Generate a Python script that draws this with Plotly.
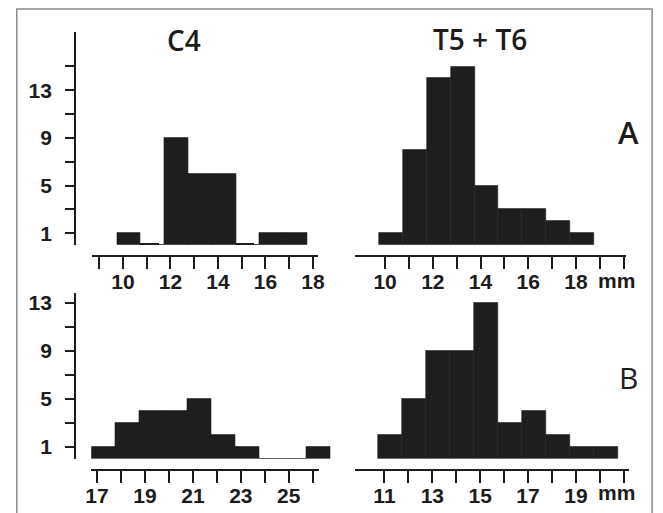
import plotly.graph_objects as go

# ---------------- data ----------------
# Row A (top): bin left edges (mm) and counts
c4_a_bins = [9.75, 10.75, 11.75, 12.75, 13.75, 14.75, 15.75, 16.75]
c4_a_counts = [1, 0, 9, 6, 6, 0, 1, 1]

t56_a_bins = [9.75, 10.75, 11.75, 12.75, 13.75, 14.75, 15.75, 16.75, 17.75]
t56_a_counts = [1, 8, 14, 15, 5, 3, 3, 2, 1]

# Row B (bottom)
c4_b_bins = [16.75, 17.75, 18.75, 19.75, 20.75, 21.75, 22.75, 23.75, 24.75, 25.75]
c4_b_counts = [1, 3, 4, 4, 5, 2, 1, 0, 0, 1]

t56_b_bins = [10.75, 11.75, 12.75, 13.75, 14.75, 15.75, 16.75, 17.75, 18.75, 19.75]
t56_b_counts = [2, 5, 9, 9, 13, 3, 4, 2, 1, 1]

# tick values / labels
c4_a_ticks = [9, 10, 11, 12, 13, 14, 15, 16, 17, 18]
c4_a_labels = ["", "10", "", "12", "", "14", "", "16", "", "18"]
t56_a_ticks = [10, 11, 12, 13, 14, 15, 16, 17, 18, 19, 20]
t56_a_labels = ["10", "", "12", "", "14", "", "16", "", "18", "", ""]
c4_b_ticks = [17, 18, 19, 20, 21, 22, 23, 24, 25, 26]
c4_b_labels = ["17", "", "19", "", "21", "", "23", "", "25", ""]
t56_b_ticks = [11, 12, 13, 14, 15, 16, 17, 18, 19, 20, 21]
t56_b_labels = ["11", "", "13", "", "15", "", "17", "", "19", "", ""]

ya_ticks = [1, 3, 5, 7, 9, 11, 13, 15]
ya_labels = ["1", "", "5", "", "9", "", "13", ""]
yb_ticks = [1, 3, 5, 7, 9, 11, 13]
yb_labels = ["1", "", "5", "", "9", "", "13"]

titles = ["C4", "T5 + T6"]
row_letters = ["A", "B"]
unit_label = "mm"

# ---------------- layout helpers ----------------
W, H = 663, 513
INK = "#1c1c1c"
BAR = "#1e1e1e"


def fx(p):
    return p / W


def fy(p):
    return 1 - p / H


# xdom: pixel span of the drawn axis line; bar_ext: extra px to the right
# where bars may extend beyond the axis line
panels = [
    dict(bins=c4_a_bins, counts=c4_a_counts, ticks=c4_a_ticks, labels=c4_a_labels,
         xdom=(88, 318), xrange=(8.71, 18.2), xpos=255, bar_ext=0,
         ydom=(244, 30), yrange=(0, 17.9), yticks=ya_ticks, ylabels=ya_labels, showy=True),
    dict(bins=t56_a_bins, counts=t56_a_counts, ticks=t56_a_ticks, labels=t56_a_labels,
         xdom=(356, 632), xrange=(8.74, 20.08), xpos=255, bar_ext=0,
         ydom=(244, 30), yrange=(0, 17.9), yticks=ya_ticks, ylabels=ya_labels, showy=False),
    dict(bins=c4_b_bins, counts=c4_b_counts, ticks=c4_b_ticks, labels=c4_b_labels,
         xdom=(87, 319), xrange=(16.76, 26.25), xpos=470, bar_ext=16,
         ydom=(458.6, 292), yrange=(0, 13.83), yticks=yb_ticks, ylabels=yb_labels, showy=True),
    dict(bins=t56_b_bins, counts=t56_b_counts, ticks=t56_b_ticks, labels=t56_b_labels,
         xdom=(356, 635), xrange=(9.77, 21.2), xpos=470, bar_ext=0,
         ydom=(458.6, 292), yrange=(0, 13.83), yticks=yb_ticks, ylabels=yb_labels, showy=False),
]

tick_font = dict(family="Liberation Sans", size=21, color=INK, weight="bold")
title_font = dict(family="Open Sans", size=28, color=INK, weight=600)

fig = go.Figure()
layout = dict(
    width=W, height=H, margin=dict(l=0, r=0, t=0, b=0),
    paper_bgcolor="white", plot_bgcolor="white",
    showlegend=False, bargap=0,
)

extra_axis = len(panels)
for i, p in enumerate(panels, start=1):
    xa = "x" if i == 1 else f"x{i}"
    ya = "y" if i == 1 else f"y{i}"
    xkey = "xaxis" if i == 1 else f"xaxis{i}"
    ykey = "yaxis" if i == 1 else f"yaxis{i}"

    # axis used for the bars (same scale, possibly wider span)
    bar_xa, bar_xkey = xa, xkey
    if p["bar_ext"]:
        extra_axis += 1
        bar_xa, bar_xkey = f"x{extra_axis}", f"xaxis{extra_axis}"
        mm_per_px = (p["xrange"][1] - p["xrange"][0]) / (p["xdom"][1] - p["xdom"][0])
        layout[bar_xkey] = dict(
            domain=[fx(p["xdom"][0]), fx(p["xdom"][1] + p["bar_ext"])],
            range=[p["xrange"][0], p["xrange"][1] + p["bar_ext"] * mm_per_px],
            anchor="free", position=fy(p["xpos"]), visible=False,
            showgrid=False, zeroline=False,
        )

    fig.add_trace(go.Bar(
        x=p["bins"], y=p["counts"], offset=0, width=1,
        marker=dict(color=BAR, line=dict(color=BAR, width=0.6)),
        xaxis=bar_xa, yaxis=ya, hoverinfo="x+y",
    ))
    # zero-count bins drawn as short dashes on the baseline
    dash_h = 2.0 * (p["yrange"][1] - p["yrange"][0]) / (p["ydom"][0] - p["ydom"][1])
    zx = [b for b, c in zip(p["bins"], p["counts"]) if c == 0]
    fig.add_trace(go.Bar(
        x=zx if zx else [None], y=[dash_h] * len(zx) if zx else [None],
        offset=0, width=0.77,
        marker=dict(color=BAR, line=dict(width=0)),
        xaxis=xa, yaxis=ya, hoverinfo="skip",
    ))

    layout[xkey] = dict(
        domain=[fx(p["xdom"][0]), fx(p["xdom"][1])], range=list(p["xrange"]),
        anchor="free", position=fy(p["xpos"]),
        showline=True, linecolor=INK, linewidth=2,
        ticks="outside", ticklen=12, tickwidth=2, tickcolor=INK,
        tickmode="array", tickvals=p["ticks"], ticktext=p["labels"],
        tickfont=tick_font, ticklabelstandoff=-5,
        showgrid=False, zeroline=False,
    )
    layout[ykey] = dict(
        domain=[fy(p["ydom"][0]), fy(p["ydom"][1])], range=list(p["yrange"]),
        anchor="free", position=fx(70.5),
        visible=p["showy"],
        showline=True, linecolor=INK, linewidth=2,
        ticks="outside", ticklen=9, tickwidth=2, tickcolor=INK,
        tickmode="array", tickvals=p["yticks"], ticktext=p["ylabels"],
        tickfont=tick_font, ticklabelstandoff=9,
        showgrid=False, zeroline=False,
    )

annotations = [
    dict(text=titles[0], x=fx(181.5), y=fy(38), font=title_font),
    dict(text=titles[1], x=fx(483.5), y=fy(37), font=title_font),
    dict(text=row_letters[0], x=fx(635), y=fy(131), font=dict(family="Open Sans", size=31, color=INK, weight=600)),
    dict(text=row_letters[1], x=fx(635), y=fy(377), font=dict(family="Open Sans", size=30, color=INK)),
    dict(text=unit_label, x=fx(623), y=fy(280), font=tick_font),
    dict(text=unit_label, x=fx(623), y=fy(492), font=tick_font),
]
for a in annotations:
    a.update(xref="paper", yref="paper", xanchor="center", yanchor="middle", showarrow=False)
layout["annotations"] = annotations

layout["shapes"] = [dict(
    type="rect", xref="paper", yref="paper",
    x0=fx(11), x1=fx(659), y0=-0.2, y1=fy(7),
    line=dict(color="#8a8a8a", width=1.5), fillcolor="rgba(0,0,0,0)", layer="below",
)]

fig.update_layout(**layout)
fig.write_html(
    "out.html",
    config={"displayModeBar": False},
    post_script="document.body.style.margin='0';document.body.style.overflow='hidden';",
)
